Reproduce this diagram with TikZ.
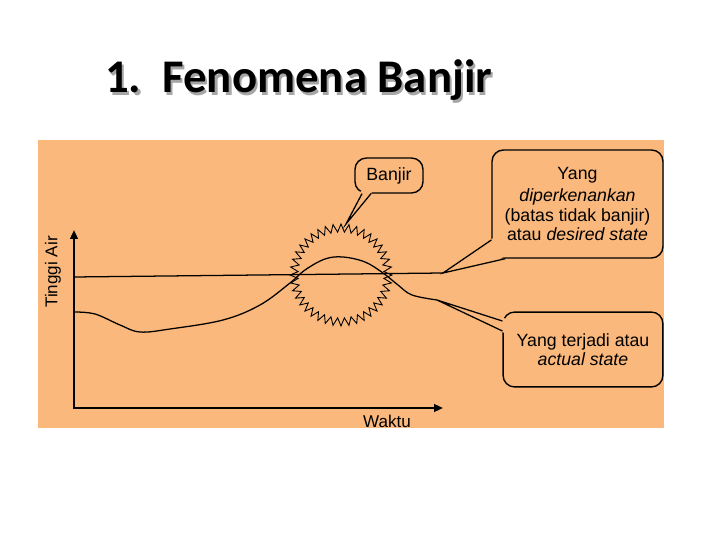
\documentclass[tikz,border=0pt]{standalone}
\usepackage{fontspec}
\setmainfont{Liberation Sans}
\newfontfamily\titlefont{Carlito}
\usetikzlibrary{arrows.meta,calc}
\definecolor{bgorange}{RGB}{250,184,124}
\tikzset{
  bubble/.style={draw,line width=1.1pt,rounded corners=9pt,fill=bgorange,align=center,inner sep=2pt,font=\fontsize{14}{15.5}\selectfont},
  axis/.style={line width=1.6pt,-{Triangle[length=7pt,width=6pt]}},
  titletext/.style={anchor=base west,font=\titlefont\bfseries\fontsize{37}{40}\selectfont,inner sep=0pt}
}
\newcommand\shadowtext[1]{\rlap{\hspace{1.6pt}\raisebox{-1.6pt}{\color{black!35}#1}}#1}
\begin{document}
\begin{tikzpicture}[x=0.02778cm,y=-0.02778cm]
  \useasboundingbox (0,0) rectangle (720,540);
  \fill[white] (0,0) rectangle (720,540);

  % title with shadow
  \node[titletext] (title) at (105,93) {\shadowtext{1.\ \ Fenomena Banjir}};

  % panel
  \fill[bgorange] (38,140) rectangle (664,428);

  % axes
  \coordinate (origin) at (74,409);
  \draw[axis] (origin) -- (74,230);
  \draw[axis] (73,408) -- (443,408);
  \node[rotate=90,font=\fontsize{13.5}{15}\selectfont] (tinggi) at (53,272) {Tinggi Air};
  \node[font=\fontsize{13.5}{15}\selectfont] (waktu) at (387,421) {Waktu};

  % desired state line and actual state curve
  \coordinate (desiredtip) at (443,273);
  \coordinate (actualtip) at (437,300);
  \draw[line width=1pt] (74,277) -- (desiredtip);
  \draw[line width=1pt] plot[smooth,tension=0.6] coordinates {(74,312) (95,314) (120,325) (140,332) (170,329) (223,320) (260,305) (290,283) (305,270) (325,259) (343,257) (365,262) (383,273) (398,285) (412,295) (actualtip)};

  % flood zone
  \draw[line width=0.7pt,shift={(341,275)}] (0:51) \foreach \a in {0,9,...,351}{ -- ({\a+4.5}:43) -- ({\a+9}:51)} -- cycle;

  % callouts
  \node[bubble,minimum width=1.89cm,minimum height=0.97cm] (banjir) at (389,175.5) {Banjir};
  \node[bubble,minimum width=4.75cm,minimum height=3cm] (desired) at (577.5,204)
    {Yang\\[2pt] \textit{diperkenankan}\\ (batas tidak banjir)\\ atau \textit{desired state}};
  \node[bubble,minimum width=4.44cm,minimum height=2.08cm] (actual) at (583,349.5)
    {Yang terjadi atau\\ \textit{actual state}};

  \coordinate (banjirtip) at (346,224);
  \fill[bgorange] ($(banjir.south)+(-28,-3)$) -- (banjirtip) -- ($(banjir.south)+(-16,-3)$) -- cycle;
  \draw[line width=1pt] ($(banjir.south)+(-27,0)$) -- (banjirtip) -- ($(banjir.south)+(-18,0)$);

  \fill[bgorange] ($(desired.west)+(2,34)$) -- (desiredtip) -- ($(desired.south west)+(15,-2)$) -- cycle;
  \draw[line width=1pt] ($(desired.west)+(0,36)$) -- (desiredtip) -- ($(desired.south west)+(14,0)$);

  \fill[bgorange] ($(actual.west)+(3,-31)$) -- (actualtip) -- ($(actual.west)+(3,-16)$) -- cycle;
  \draw[line width=1pt] ($(actual.west)+(0,-28.5)$) -- (actualtip) -- ($(actual.west)+(0,-18.5)$);
\end{tikzpicture}
\end{document}
